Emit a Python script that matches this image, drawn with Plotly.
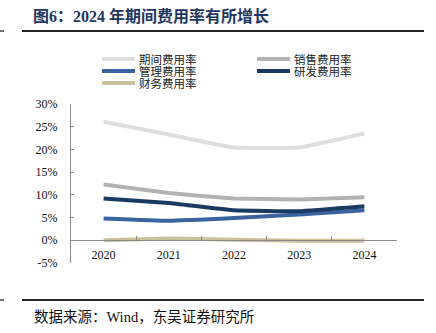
import plotly.graph_objects as go

# Expense ratios by year (%)
years = ["2020", "2021", "2022", "2023", "2024"]
series_names = ["期间费用率", "销售费用率", "管理费用率", "研发费用率", "财务费用率"]
period_ratio = [26.1, 23.3, 20.4, 20.4, 23.5]
selling_ratio = [12.3, 10.4, 9.2, 9.0, 9.5]
admin_ratio = [4.8, 4.3, 4.9, 5.7, 6.6]
rnd_ratio = [9.2, 8.2, 6.6, 6.4, 7.5]
finance_ratio = [0.0, 0.4, 0.1, -0.1, -0.1]
y_ticks = [-5, 0, 5, 10, 15, 20, 25, 30]

series_values = [period_ratio, selling_ratio, admin_ratio, rnd_ratio, finance_ratio]
colors = ["#dedede", "#b2b2b2", "#3a63a0", "#1b3a62", "#c8c19b"]

W, H = 436, 333
L, R, T, B = 71, 397, 104, 263  # plot area in pixels
pw, ph = R - L, B - T


def px(x):
    return (x - L) / pw


def py(y):
    return (B - y) / ph


SERIF = "Liberation Serif, 'Noto Sans CJK SC', serif"

fig = go.Figure()
for name, vals, col in zip(series_names, series_values, colors):
    fig.add_trace(go.Scatter(
        x=years, y=vals, name=name, mode="lines",
        line=dict(color=col, width=4, shape="spline", smoothing=0.25),
        showlegend=False, cliponaxis=False,
    ))

shapes = []
annotations = []

# manual two-column legend
legend_pos = [(102, 59), (257, 59), (102, 71), (257, 71), (102, 83)]
for (lx, ly), name, col in zip(legend_pos, series_names, colors):
    shapes.append(dict(type="line", xref="paper", yref="paper",
                       x0=px(lx), x1=px(lx + 33), y0=py(ly), y1=py(ly),
                       line=dict(color=col, width=4)))
    annotations.append(dict(xref="paper", yref="paper", x=px(lx + 35), y=py(ly),
                            xanchor="left", yanchor="middle", showarrow=False,
                            text=name, font=dict(family=SERIF, size=11.5, color="#222")))

# header and footer rules
for ry in (31, 300):
    shapes.append(dict(type="line", xref="paper", yref="paper",
                       x0=px(22), x1=px(424), y0=py(ry), y1=py(ry),
                       line=dict(color="#222", width=2)))
    shapes.append(dict(type="line", xref="paper", yref="paper",
                       x0=px(0), x1=px(4), y0=py(ry), y1=py(ry),
                       line=dict(color="#444", width=1.5)))

annotations.append(dict(xref="paper", yref="paper", x=px(31), y=py(16),
                        xanchor="left", yanchor="middle", showarrow=False,
                        text="<b>图6：2024 年期间费用率有所增长</b>",
                        font=dict(family=SERIF, size=16, color="#1f3660")))
annotations.append(dict(xref="paper", yref="paper", x=px(32), y=py(317),
                        xanchor="left", yanchor="middle", showarrow=False,
                        text="数据来源：Wind，东吴证券研究所",
                        font=dict(family=SERIF, size=14.5, color="#111")))

fig.update_layout(
    width=W, height=H,
    margin=dict(l=L, r=W - R, t=T, b=H - B, pad=0),
    paper_bgcolor="white", plot_bgcolor="white",
    shapes=shapes, annotations=annotations,
    xaxis=dict(
        type="category", range=[-0.5, 4.5], anchor="free", position=py(240),
        showline=True, linecolor="#8a8a8a", linewidth=1,
        ticks="inside", ticklen=4, tickcolor="#8a8a8a", tickson="boundaries",
        ticklabelstandoff=4,
        showgrid=False, zeroline=False,
        tickfont=dict(family=SERIF, size=12, color="#111"),
    ),
    yaxis=dict(
        range=[-5, 30], tickvals=y_ticks, ticktext=[f"{v}%" for v in y_ticks],
        showline=True, linecolor="#8a8a8a", linewidth=1,
        ticks="inside", ticklen=3, tickcolor="#8a8a8a",
        ticklabelstandoff=10,
        showgrid=False, zeroline=False,
        tickfont=dict(family=SERIF, size=12, color="#111"),
    ),
)

fig.write_html("out.html")
